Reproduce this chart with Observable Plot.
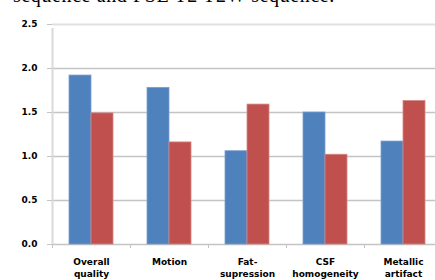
<!DOCTYPE html>
<html>
<head>
<meta charset="utf-8">
<script src="https://cdn.jsdelivr.net/npm/d3@7"></script>
<script src="https://cdn.jsdelivr.net/npm/@observablehq/plot@0.6"></script>
<style>
  html, body { margin: 0; padding: 0; background: #fff; overflow: hidden; width: 435px; height: 280px; }
  #wrap { position: relative; width: 435px; height: 280px; overflow: hidden; }
  #title { position: absolute; left: 13px; top: -16px; font-family: "Liberation Serif", serif; font-size: 20px; letter-spacing: 0.6px; white-space: nowrap; color: #000; }
  #chart { position: absolute; left: 0; top: 0; width: 435px; height: 280px; overflow: hidden; }
</style>
</head>
<body>
<div id="wrap">
  <div id="chart"></div>
  <div id="title">sequence and FSE T2 T2W sequence.</div>
</div>
<script>
const categories = ["Overall\nquality", "Motion", "Fat-\nsupression", "CSF\nhomogeneity", "Metallic\nartifact"];
const blueValues = [1.92, 1.78, 1.06, 1.50, 1.17];
const redValues = [1.49, 1.16, 1.59, 1.02, 1.63];
const yTicks = [0, 0.5, 1.0, 1.5, 2.0, 2.5];

const blueData = categories.map((c, i) => ({category: c, value: blueValues[i]}));
const redData = categories.map((c, i) => ({category: c, value: redValues[i]}));

const W = 435, H = 280, mL = 52, mR = -7, mT = 24, mB = 36;
const step = (W - mL - mR) / categories.length;
const barW = step * 0.282;

const chart = Plot.plot({
  width: W,
  height: H,
  marginLeft: mL,
  marginRight: mR,
  marginTop: mT,
  marginBottom: mB,
  style: {fontFamily: "DejaVu Sans", fontSize: "9px", background: "#fff"},
  x: {domain: categories, padding: 0, axis: null},
  y: {domain: [0, 2.5], axis: null},
  marks: [
    Plot.gridY([0.5, 1.0, 1.5, 2.0], {stroke: "#c4c4c4", strokeOpacity: 1, strokeWidth: 1.3}),
    Plot.ruleY([2.5], {stroke: "#e0e0e0", strokeWidth: 2}),
    Plot.ruleY([0], {stroke: "#c4c4c4", strokeWidth: 1.3}),
    Plot.ruleX(categories, {x: d => d, dx: -step / 2, y1: 0, y2: 0, insetBottom: -4, stroke: "#c4c4c4"}),
    Plot.ruleX([categories[0]], {x: d => d, dx: -step / 2, y1: 0, y2: 2.5, insetBottom: -4, stroke: "#d9d9d9", strokeWidth: 2}),
    Plot.axisY({ticks: yTicks, label: null, tickFormat: d3.format(".1f"), tickSize: 5, tickPadding: 10, stroke: "#c4c4c4", fill: "#000", fontWeight: "bold", fontSize: 9}),
    Plot.barY(blueData, {x: "category", y: "value", insetLeft: (step - 2 * barW) / 2, insetRight: (step - 2 * barW) / 2 + barW, fill: "#4f81bd", stroke: "#7b9fcf", strokeWidth: 0.8}),
    Plot.barY(redData, {x: "category", y: "value", insetLeft: (step - 2 * barW) / 2 + barW, insetRight: (step - 2 * barW) / 2, fill: "#c0504d", stroke: "#d88583", strokeWidth: 0.8}),
    Plot.text(categories, {x: d => d, y: 0, text: d => d, dy: 12, lineAnchor: "top", lineHeight: 1.35, fontWeight: "bold", fontSize: 9, fill: "#000"})
  ]
});
document.getElementById("chart").appendChild(chart);
</script>
</body>
</html>
